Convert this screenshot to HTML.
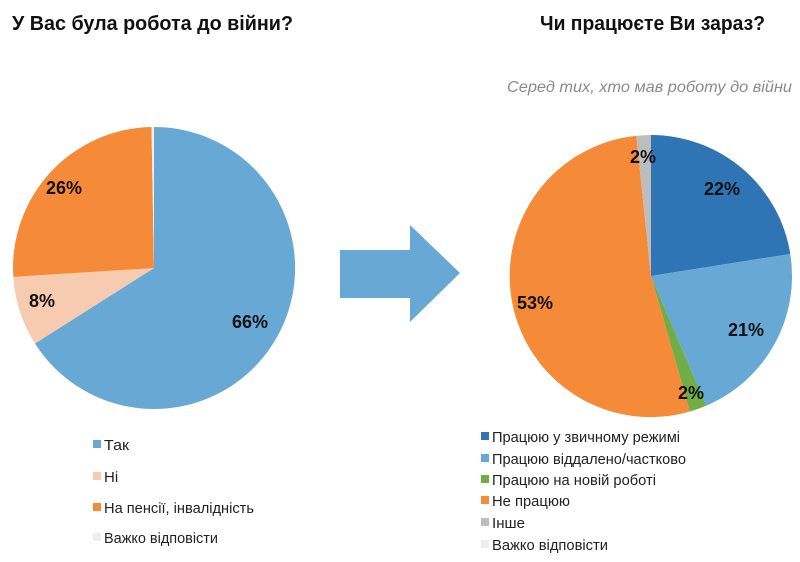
<!DOCTYPE html>
<html><head><meta charset="utf-8"><style>
html,body{margin:0;padding:0;background:#fff;}
svg{display:block;font-family:"Liberation Sans",sans-serif;}
</style></head><body>
<svg width="800" height="562" viewBox="0 0 800 562">
<text x="12" y="30" font-size="20" font-weight="bold" fill="#111" textLength="281" lengthAdjust="spacingAndGlyphs">У Вас була робота до війни?</text>
<text x="540" y="30" font-size="20" font-weight="bold" fill="#111" textLength="225" lengthAdjust="spacingAndGlyphs">Чи працюєте Ви зараз?</text>
<text x="507" y="92" font-size="16" font-style="italic" fill="#8a8a8a" textLength="285" lengthAdjust="spacingAndGlyphs">Серед тих, хто мав роботу до війни</text>

<!-- left pie -->
<path d="M154,268 L154,127 A141,141 0 1 1 35,343.5 Z" fill="#67a9d4"/>
<path d="M154,268 L35,343.5 A141,141 0 0 1 13.3,276.9 Z" fill="#f7cbb0"/>
<path d="M154,268 L13.3,276.9 A141,141 0 0 1 151.5,127 Z" fill="#f58a38"/>
<path d="M154,268 L151.5,127 A141,141 0 0 1 154,127 Z" fill="#eeeeee"/>
<g font-size="18" font-weight="bold" fill="#111" text-anchor="middle">
<text x="250" y="328">66%</text>
<text x="64" y="194">26%</text>
<text x="42" y="307">8%</text>
</g>

<!-- arrow -->
<path d="M340,250 L410,250 L410,225 L460,273 L410,322 L410,298 L340,298 Z" fill="#67a9d4"/>

<!-- right pie -->
<path d="M651,276 L651,135 A141,141 0 0 1 790.3,254 Z" fill="#2f75b5"/>
<path d="M651,276 L790.3,254 A141,141 0 0 1 706.1,405.8 Z" fill="#67a9d4"/>
<path d="M651,276 L706.1,405.8 A141,141 0 0 1 689.9,411.5 Z" fill="#70ad47"/>
<path d="M651,276 L689.9,411.5 A141,141 0 1 1 636.3,135.8 Z" fill="#f58a38"/>
<path d="M651,276 L636.3,135.8 A141,141 0 0 1 651,135 Z" fill="#bdbdbd"/>
<g font-size="18" font-weight="bold" fill="#111" text-anchor="middle">
<text x="722" y="195">22%</text>
<text x="746" y="336">21%</text>
<text x="691" y="399">2%</text>
<text x="535" y="309">53%</text>
<text x="643" y="163">2%</text>
</g>

<!-- left legend -->
<g font-size="15" fill="#222">
<rect x="93" y="440" width="8" height="8" fill="#67a9d4"/><text x="104" y="450" textLength="25" lengthAdjust="spacingAndGlyphs">Так</text>
<rect x="93" y="472" width="8" height="8" fill="#f7cbb0"/><text x="104" y="482">Ні</text>
<rect x="93" y="503" width="8" height="8" fill="#f58a38"/><text x="104" y="513" textLength="150" lengthAdjust="spacingAndGlyphs">На пенсії, інвалідність</text>
<rect x="93" y="533" width="8" height="8" fill="#eeeeee"/><text x="104" y="543" textLength="114" lengthAdjust="spacingAndGlyphs">Важко відповісти</text>
</g>
<!-- right legend -->
<g font-size="15" fill="#222">
<rect x="481" y="432" width="8" height="8" fill="#2f75b5"/><text x="492" y="442" textLength="188" lengthAdjust="spacingAndGlyphs">Працюю у звичному режимі</text>
<rect x="481" y="454" width="8" height="8" fill="#67a9d4"/><text x="492" y="464" textLength="194" lengthAdjust="spacingAndGlyphs">Працюю віддалено/частково</text>
<rect x="481" y="475" width="8" height="8" fill="#70ad47"/><text x="492" y="485" textLength="164" lengthAdjust="spacingAndGlyphs">Працюю на новій роботі</text>
<rect x="481" y="496" width="8" height="8" fill="#f58a38"/><text x="492" y="506" textLength="78" lengthAdjust="spacingAndGlyphs">Не працюю</text>
<rect x="481" y="518" width="8" height="8" fill="#bdbdbd"/><text x="492" y="528" textLength="33" lengthAdjust="spacingAndGlyphs">Інше</text>
<rect x="481" y="540" width="8" height="8" fill="#eeeeee"/><text x="492" y="550" textLength="116" lengthAdjust="spacingAndGlyphs">Важко відповісти</text>
</g>
</svg>
</body></html>
